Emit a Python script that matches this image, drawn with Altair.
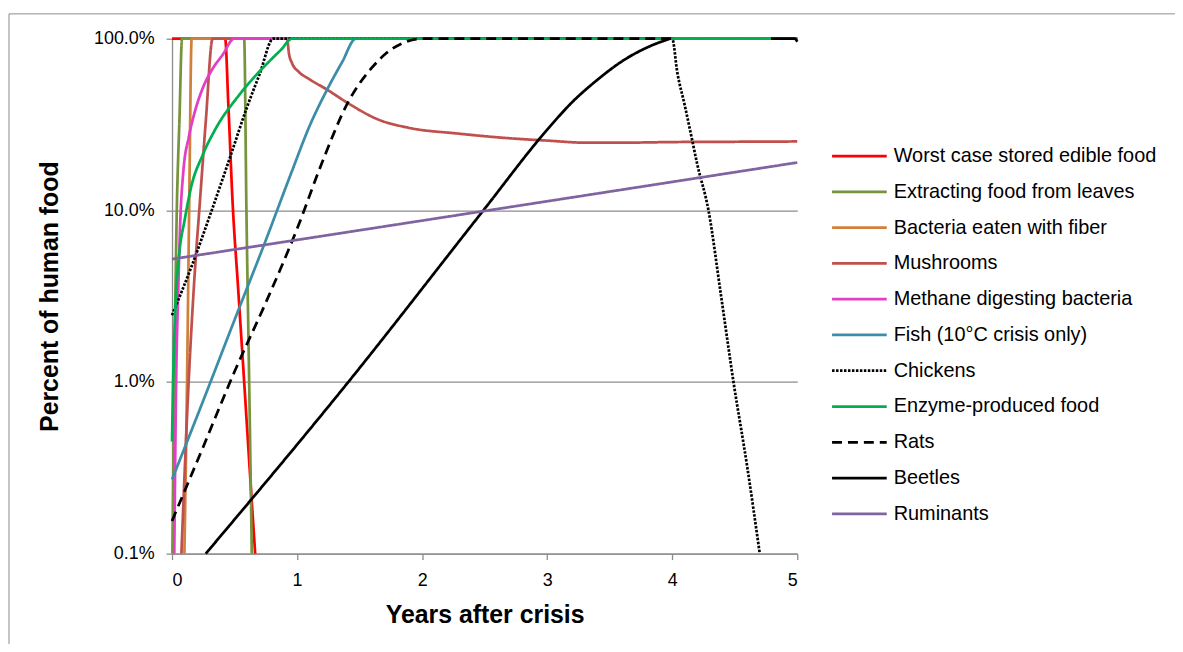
import altair as alt
import pandas as pd

# ---------------- data ----------------
names = [
    "Worst case stored edible food",
    "Extracting food from leaves",
    "Bacteria eaten with fiber",
    "Mushrooms",
    "Methane digesting bacteria",
    "Fish (10°C crisis only)",
    "Chickens",
    "Enzyme-produced food",
    "Rats",
    "Beetles",
    "Ruminants",
]
colors = ["#FF0000", "#77933C", "#D0803C", "#C0504D", "#E23FC4", "#3C8DA8",
          "#000000", "#00B050", "#000000", "#000000", "#8064A2"]
dashes = [[1, 0], [1, 0], [1, 0], [1, 0], [1, 0], [1, 0],
          [2.5, 1.5], [1, 0], [10, 6], [1, 0], [1, 0]]

worst_x = [0, 0.425, 0.45, 0.484, 0.53, 0.577, 0.62, 0.665]
worst_y = [100, 100, 42, 11.3, 3.4, 1.0, 0.32, 0.1]

leaves_x = [0.003, 0.015, 0.025, 0.037, 0.06, 0.08, 0.577, 0.595, 0.617, 0.638]
leaves_y = [0.1, 0.6, 2.5, 9, 35, 100, 100, 10, 1.0, 0.1]

fiber_x = [0.099, 0.12, 0.137, 0.157, 5.0]
fiber_y = [0.1, 1.0, 10, 100, 100]

mush_x = [0.075, 0.133, 0.19, 0.218, 0.27, 0.325, 0.92, 0.935, 0.96, 1.015,
          1.1, 1.24, 1.41, 1.65, 1.89, 2.29, 2.7, 3.0, 3.3, 3.6, 4.0, 4.5, 5.0]
mush_y = [0.1, 1.0, 5.3, 10, 33, 100, 100, 82, 72, 64,
          58, 50.5, 42, 33.8, 30.3, 28, 26.3, 25.5, 24.8, 24.8, 25, 25.1, 25.2]

meth_x = [0.018, 0.033, 0.05, 0.067, 0.091, 0.133, 0.18, 0.245, 0.32, 0.404, 0.497, 5.0]
meth_y = [0.1, 1.0, 3.5, 9, 17, 26.5, 37, 51.4, 66, 80.5, 100, 100]

fish_x = [0, 0.25, 0.5, 0.75, 0.96, 1.1, 1.24, 1.36, 1.47, 5.0]
fish_y = [0.27, 0.78, 2.3, 6.7, 17, 31, 50.5, 73, 100, 100]

chick_x = [0, 0.165, 0.3, 0.47, 0.6, 0.7, 0.81, 4.0, 4.04, 4.1, 4.15, 4.2,
           4.29, 4.39, 4.49, 4.6, 4.7]
chick_y = [2.45, 4.9, 9.2, 21, 40, 62, 100, 100, 64, 41, 27.7, 18.6,
           10, 3.2, 1.0, 0.32, 0.1]

enz_x = [0, 0.01, 0.03, 0.06, 0.1, 0.152, 0.245, 0.35, 0.537, 0.776, 0.87, 0.96, 5.0]
enz_y = [0.45, 1.1, 3.0, 5.8, 8.7, 13.6, 21, 30, 47, 73.6, 86, 100, 100]

rats_x = [0, 0.25, 0.5, 0.75, 1.0, 1.2, 1.41, 1.6, 1.71, 1.84, 2.0, 4.0]
rats_y = [0.155, 0.42, 1.15, 2.9, 7.8, 19, 43, 68, 82, 94, 100, 100]

beet_x = [0.27, 1.41, 2.49, 3.0, 3.2, 3.4, 3.6, 3.8, 3.98]
beet_y = [0.1, 1.0, 10, 29.5, 42.7, 57.5, 74, 89, 100]
beet2_x = [4.79, 4.98, 5.0]
beet2_y = [100, 100, 96]

rum_x = [0, 0.537, 2.53, 5.0]
rum_y = [5.2, 5.97, 10, 19.0]

series_xy = [
    [(worst_x, worst_y)],
    [(leaves_x, leaves_y)],
    [(fiber_x, fiber_y)],
    [(mush_x, mush_y)],
    [(meth_x, meth_y)],
    [(fish_x, fish_y)],
    [(chick_x, chick_y)],
    [(enz_x, enz_y)],
    [(rats_x, rats_y)],
    [(beet_x, beet_y), (beet2_x, beet2_y)],
    [(rum_x, rum_y)],
]

rows = []
for name, segs in zip(names, series_xy):
    for s, (xs, ys) in enumerate(segs):
        for xv, yv in zip(xs, ys):
            rows.append({"series": name, "seg": s, "x": xv, "y": yv})
df = pd.DataFrame(rows)
legend_df = pd.DataFrame({"series": names})

# ---------------- chart ----------------
FONT = "Liberation Sans"
GRAY = "#8C8C8C"
LW = 2.75

color_enc = alt.Color("series:N", scale=alt.Scale(domain=names, range=colors), legend=None)
dash_enc = alt.StrokeDash("series:N", scale=alt.Scale(domain=names, range=dashes), legend=None)

x_enc = alt.X("x:Q", scale=alt.Scale(domain=[0, 5], nice=False, zero=False),
              axis=alt.Axis(values=[0, 1, 2, 3, 4, 5], format="d", grid=False,
                            title="Years after crisis", tickSize=6, labelPadding=12,
                            labelFontSize=18, titleFontSize=25, titleFontWeight="bold",
                            titleY=49, titleBaseline="top"))
y_enc = alt.Y("y:Q", scale=alt.Scale(type="log", domain=[0.1, 100], nice=False),
              axis=alt.Axis(values=[0.1, 1, 10, 100],
                            labelExpr="format(datum.value, '.1f') + '%'",
                            grid=True, gridColor=GRAY, gridWidth=1.3,
                            title="Percent of human food", tickSize=6, labelPadding=12,
                            labelFontSize=18, titleFontSize=25, titleFontWeight="bold",
                            titleX=-123, titleY=259, titleBaseline="middle", titleAngle=-90))

line_layers = []
for name in names:
    line_layers.append(
        alt.Chart(df)
        .transform_filter(alt.datum.series == name)
        .mark_line(strokeWidth=LW, interpolate="monotone")
        .encode(x=x_enc, y=y_enc, color=color_enc, strokeDash=dash_enc, detail="seg:N")
    )
main = alt.layer(*line_layers)

leg_y = alt.Y("series:N", sort=names, axis=None,
              scale=alt.Scale(type="point", domain=names, range=[118, 478], padding=0))
leg_rule = alt.Chart(legend_df).mark_rule(strokeWidth=LW).encode(
    y=leg_y, x=alt.value(664), x2=alt.value(719), color=color_enc, strokeDash=dash_enc)
leg_text = alt.Chart(legend_df).mark_text(
    align="left", baseline="middle", fontSize=20, font=FONT, color="#000000").encode(
    y=leg_y, x=alt.value(726), text="series:N")
legend = alt.layer(leg_rule, leg_text)

frame_df = pd.DataFrame({"a": [0]})
frame_top = alt.Chart(frame_df).mark_rule(stroke=GRAY, strokeWidth=1).encode(
    x=alt.value(-164), x2=alt.value(1200), y=alt.value(-25))
frame_left = alt.Chart(frame_df).mark_rule(stroke=GRAY, strokeWidth=1).encode(
    x=alt.value(-164), y=alt.value(-25), y2=alt.value(700))

chart = (
    alt.layer(frame_top, frame_left, main, legend)
    .resolve_scale(y="independent")
    .properties(
        width=629, height=518,
        autosize=alt.AutoSizeParams(type="none"),
        padding={"left": 165, "top": 29, "right": 380, "bottom": 89},
    )
    .configure(font=FONT)
    .configure_view(stroke=None)
    .configure_axis(domainColor=GRAY, tickColor=GRAY, domainWidth=1.3, tickWidth=1.3,
                    labelColor="#000000", titleColor="#000000",
                    labelFont=FONT, titleFont=FONT)
)

chart.save("out.html", embed_options={"renderer": "svg", "actions": False})
